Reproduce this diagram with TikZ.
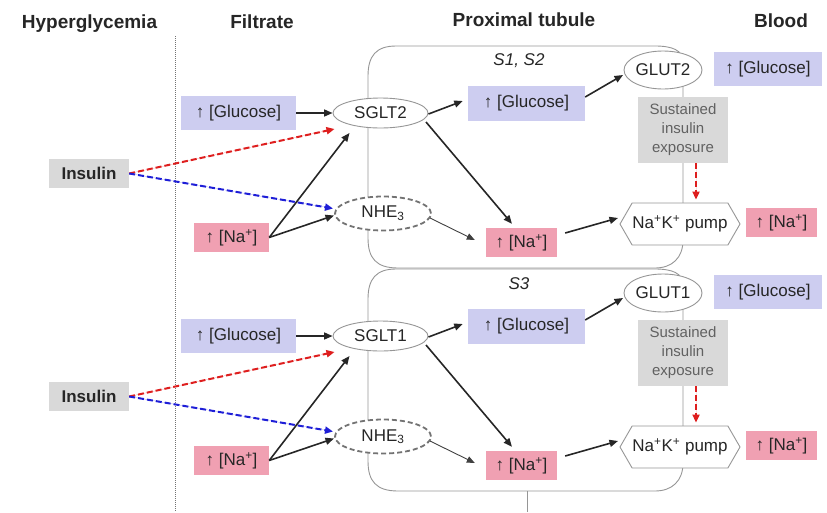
\documentclass[tikz,border=0pt]{standalone}
\usepackage{fontspec}
\setmainfont{Liberation Sans}
\usetikzlibrary{arrows.meta,calc,shapes.geometric,shapes.symbols}
\definecolor{lav}{RGB}{205,205,240}
\definecolor{pinkbox}{RGB}{240,160,178}
\definecolor{graybox}{RGB}{217,217,217}
\definecolor{outl}{RGB}{150,150,150}
\definecolor{insred}{RGB}{222,30,30}
\definecolor{insblue}{RGB}{30,30,215}
\begin{document}
\begin{tikzpicture}[x=1pt,y=-1pt,
 txt/.style={font=\fontsize{17}{20}\selectfont, inner sep=0pt, text=black!85},
 hdr/.style={font=\fontsize{19}{22}\selectfont\bfseries, anchor=base, inner sep=0pt, text=black!85},
 glubox/.style={txt, fill=lav, minimum height=34pt},
 nabox/.style={txt, fill=pinkbox, minimum height=29pt},
 insbox/.style={txt, fill=graybox, font=\fontsize{17}{20}\selectfont\bfseries, minimum width=80pt, minimum height=29pt},
 sustbox/.style={txt, fill=graybox, text=black!62, font=\fontsize{15}{19}\selectfont, align=center, minimum width=90pt, minimum height=66pt},
 oval/.style={txt, ellipse, draw=outl, fill=white, line width=0.9pt},
 dashoval/.style={txt, ellipse, draw=black!55, fill=white, line width=1.8pt, dash pattern=on 5pt off 3pt},
 pumpshape/.style={txt, signal, signal to=west and east, signal pointer angle=120, draw=outl, fill=white, line width=0.9pt, minimum width=120pt, minimum height=42pt},
 tube/.style={draw=outl, line width=0.9pt},
 arr/.style={-{Triangle[length=8.5pt,width=7pt]}, line width=1.6pt, draw=black!85},
 thinarr/.style={-{Triangle[length=8pt,width=6.5pt]}, line width=0.9pt, draw=black!75},
 redarr/.style={-{Triangle[length=8pt,width=7pt]}, line width=2pt, draw=insred, fill=insred, dash pattern=on 6pt off 3pt},
 bluearr/.style={-{Triangle[length=8pt,width=7pt]}, line width=2pt, draw=insblue, fill=insblue, dash pattern=on 6pt off 3pt},
 seglabel/.style={font=\fontsize{17}{20}\selectfont\itshape, inner sep=0pt, text=black!85}
]
\useasboundingbox (0,0) rectangle (827,512);

% headers
\node[hdr] (hhyp) at (89.5,28) {Hyperglycemia};
\node[hdr] (hfil) at (262,28) {Filtrate};
\node[hdr] (hprox) at (524,26) {Proximal tubule};
\node[hdr] (hblood) at (781,27) {Blood};

% dotted separator
\coordinate (dtop) at (175,36);
\coordinate (dbot) at (175,512);
\draw[densely dotted, black!55, line width=1pt] (dtop) -- (dbot);

% tubule outlines
\foreach \dy in {0,223}{
  \draw[tube] (683,62+\dy) .. controls (683,50+\dy) and (672,46+\dy) .. (655,46+\dy)
    -- (396,46+\dy) .. controls (376,46+\dy) and (368,56+\dy) .. (368,76+\dy)
    -- (368,238+\dy) .. controls (368,258+\dy) and (376,268+\dy) .. (398,268+\dy)
    -- (655,268+\dy) .. controls (672,268+\dy) and (683,258+\dy) .. (683,240+\dy) -- cycle;
}
\coordinate (tailtop) at (527,491);
\coordinate (tailbot) at (527,512);
\draw[tube] (tailtop) -- (tailbot);

\foreach \i/\dy/\sg/\gl/\sl in {1/0/SGLT2/GLUT2/{S1, S2}, 2/223/SGLT1/GLUT1/S3}{
  \node[seglabel] (seg\i) at (519,61+\dy) {\sl};
  \node[glubox, minimum width=115pt] (fglu\i) at (238.5,113+\dy) {↑ [Glucose]};
  \node[nabox, minimum width=75pt] (fna\i) at (231.5,237.5+\dy) {↑ [Na\textsuperscript{+}]};
  \node[insbox] (ins\i) at (89,173.5+\dy) {Insulin};
  \node[oval, minimum width=95pt, minimum height=30pt] (sglt\i) at (380.5,113+\dy) {\sg};
  \node[dashoval, minimum width=96pt, minimum height=34pt] (nhe\i) at (383,213.5+\dy) {NHE\textsubscript{3}};
  \node[glubox, minimum width=117pt, minimum height=35pt] (tglu\i) at (526.5,103.5+\dy) {↑ [Glucose]};
  \node[nabox, minimum width=71pt] (tna\i) at (521.5,242.5+\dy) {↑ [Na\textsuperscript{+}]};
  \node[oval, minimum width=78pt, minimum height=38pt] (glut\i) at (663,70+\dy) {\gl};
  \node[glubox, minimum width=108pt] (bglu\i) at (768,69+\dy) {↑ [Glucose]};
  \node[sustbox] (sust\i) at (683,130+\dy) {Sustained\\insulin\\exposure};
  \node[pumpshape] (pump\i) at (680,224+\dy) {Na\textsuperscript{+}K\textsuperscript{+} pump};
  \node[nabox, minimum width=71pt] (bna\i) at (781.5,222.5+\dy) {↑ [Na\textsuperscript{+}]};

  \draw[arr] (fglu\i.east) -- (sglt\i.west);
  \draw[redarr] (ins\i.east) -- ($(sglt\i.center)+(-46,16)$);
  \draw[bluearr] (ins\i.east) -- ($(nhe\i.center)+(-50,-5)$);
  \draw[arr] (fna\i.east) -- ($(sglt\i.center)+(-31,20)$);
  \draw[arr] (fna\i.east) -- ($(nhe\i.center)+(-49,2)$);
  \draw[arr] ($(sglt\i.center)+(48,1)$) -- ($(tglu\i.west)+(-5,-2.5)$);
  \draw[arr] ($(tglu\i.east)+(0,-6.5)$) -- ($(glut\i.center)+(-40,5)$);
  \draw[arr] ($(sglt\i.center)+(45.5,9)$) -- ($(tna\i.north)+(-9.5,-4)$);
  \draw[thinarr] ($(nhe\i.center)+(47,4.5)$) -- ($(tna\i.west)+(-11,-2.5)$);
  \draw[arr] ($(tna\i.east)+(8,-9.5)$) -- ($(pump\i.center)+(-62,-6)$);
  \draw[redarr] ($(sust\i.south)+(13,0)$) -- ($(pump\i.north)+(16,-3)$);
}
\end{tikzpicture}
\end{document}
